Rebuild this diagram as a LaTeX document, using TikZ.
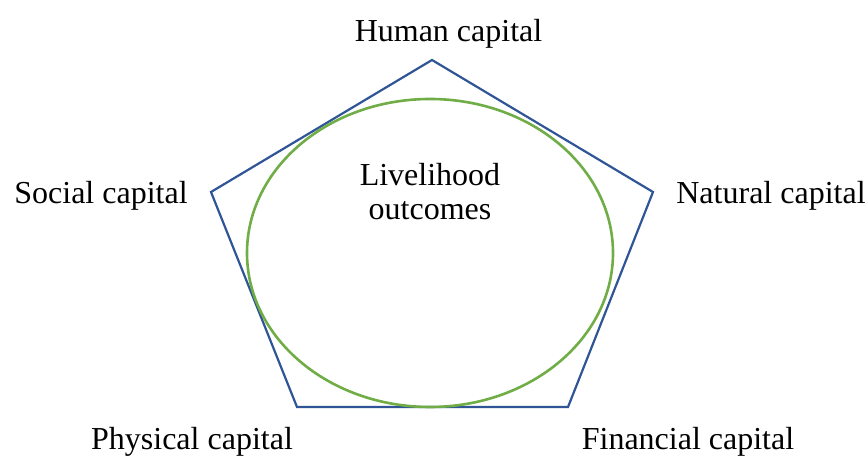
\documentclass[tikz,border=0pt]{standalone}
\usepackage{fontspec}
\setmainfont{Liberation Serif}
\definecolor{pentblue}{HTML}{2F5597}
\definecolor{ellgreen}{HTML}{70AD47}
\begin{document}
\begin{tikzpicture}[x=0.5pt,y=-0.5pt,
  lbl/.style={anchor=base,inner sep=0pt,font=\fontsize{16}{17.5}\selectfont},
  pent/.style={draw=pentblue,line width=1.1pt,line join=miter},
  ell/.style={draw=ellgreen,line width=1.3pt}]
\useasboundingbox (0,0) rectangle (868,458);
\coordinate (T) at (432,60);
\coordinate (R) at (653,192);
\coordinate (BR) at (568,407);
\coordinate (BL) at (297,407);
\coordinate (L) at (211,192);
\draw[pent] (T) -- (R) -- (BR) -- (BL) -- (L) -- cycle;
\coordinate (E) at (430,253);
\draw[ell] (E) ellipse [x radius=183, y radius=154];
\node[lbl] (human) at (448.5,42) {Human capital};
\node[lbl] (social) at (101,204) {Social capital};
\node[lbl] (natural) at (771,204) {Natural capital};
\node[lbl] (physical) at (192,450) {Physical capital};
\node[lbl] (financial) at (688,450) {Financial capital};
\node[lbl] (liv) at (430,186) {Livelihood};
\node[lbl] (out) at (430,220) {outcomes};
\end{tikzpicture}
\end{document}
